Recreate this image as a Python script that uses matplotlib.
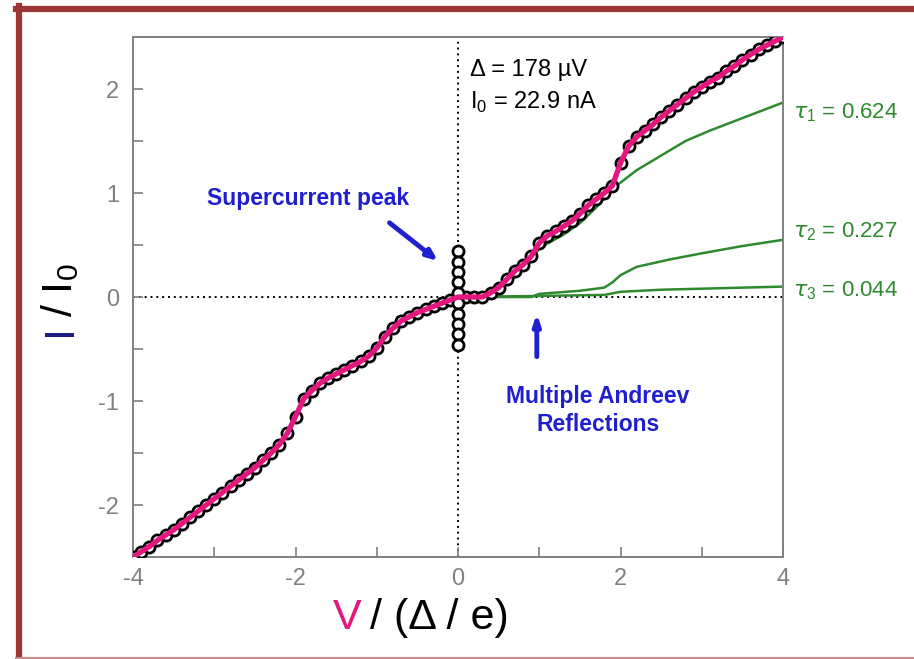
import matplotlib
matplotlib.use("Agg")
import matplotlib.pyplot as plt
from matplotlib.lines import Line2D
from matplotlib.ticker import MultipleLocator

plt.rcParams['font.family'] = ['Liberation Sans', 'DejaVu Sans']
plt.rcParams['mathtext.fontset'] = 'custom'
plt.rcParams['mathtext.rm'] = 'Liberation Sans'
plt.rcParams['axes.unicode_minus'] = False

# measured I-V points (V in units of Delta/e, I in units of I0)
v_data = [-4.0, -3.9, -3.8, -3.7, -3.6, -3.5, -3.4, -3.3, -3.2, -3.1,
          -3.0, -2.9, -2.8, -2.7, -2.6, -2.5, -2.4, -2.3, -2.2, -2.1,
          -2.0, -1.9, -1.8, -1.7, -1.6, -1.5, -1.4, -1.3, -1.2, -1.1,
          -1.0, -0.9, -0.8, -0.7, -0.6, -0.5, -0.4, -0.3, -0.2, -0.1,
          0.0, 0.1, 0.2, 0.3, 0.4, 0.5, 0.6, 0.7, 0.8, 0.9,
          1.0, 1.1, 1.2, 1.3, 1.4, 1.5, 1.6, 1.7, 1.8, 1.9,
          2.0, 2.1, 2.2, 2.3, 2.4, 2.5, 2.6, 2.7, 2.8, 2.9,
          3.0, 3.1, 3.2, 3.3, 3.4, 3.5, 3.6, 3.7, 3.8, 3.9, 4.0]
i_data = [-2.50, -2.45, -2.40, -2.34, -2.29, -2.24, -2.18, -2.12, -2.06, -2.00,
          -1.94, -1.88, -1.82, -1.76, -1.70, -1.64, -1.57, -1.50, -1.42, -1.31,
          -1.15, -0.98, -0.90, -0.83, -0.78, -0.74, -0.70, -0.66, -0.62, -0.57,
          -0.49, -0.38, -0.30, -0.23, -0.19, -0.15, -0.12, -0.09, -0.06, -0.03,
          0.00, 0.00, 0.00, 0.00, 0.04, 0.09, 0.17, 0.25, 0.31, 0.39,
          0.52, 0.59, 0.63, 0.68, 0.73, 0.80, 0.88, 0.94, 1.00, 1.07,
          1.29, 1.45, 1.54, 1.60, 1.66, 1.73, 1.79, 1.85, 1.91, 1.97,
          2.02, 2.07, 2.11, 2.17, 2.22, 2.28, 2.33, 2.38, 2.42, 2.46, 2.50]

# supercurrent points stacked at V = 0
v_sc = [0, 0, 0, 0, 0, 0, 0, 0, 0, 0]
i_sc = [0.44, 0.34, 0.24, 0.14, 0.04, -0.06, -0.16, -0.26, -0.36, -0.46]

# single channel contributions
v_t1 = [0.0, 0.3, 0.5, 0.7, 0.9, 1.0, 1.3, 1.5, 1.7, 1.9, 2.2, 2.5, 2.8, 3.1, 3.4, 3.7, 4.0]
i_t1 = [0.0, 0.0, 0.05, 0.19, 0.34, 0.47, 0.60, 0.71, 0.86, 1.04, 1.22, 1.36, 1.50, 1.60, 1.69, 1.78, 1.87]
v_t2 = [0.0, 0.9, 1.0, 1.5, 1.8, 1.9, 2.0, 2.2, 2.6, 3.0, 3.5, 4.0]
i_t2 = [0.0, 0.0, 0.03, 0.06, 0.09, 0.14, 0.21, 0.29, 0.36, 0.42, 0.49, 0.55]
v_t3 = [0.0, 1.0, 1.8, 2.0, 2.5, 3.0, 3.5, 4.0]
i_t3 = [0.0, 0.01, 0.02, 0.05, 0.07, 0.08, 0.09, 0.10]

tau_labels = [r"$\tau_{\mathregular{1}}$ = 0.624", r"$\tau_{\mathregular{2}}$ = 0.227",
              r"$\tau_{\mathregular{3}}$ = 0.044"]
tau_label_y = [1.77, 0.63, 0.06]

W, H = 914, 659
fig = plt.figure(figsize=(W / 100, H / 100), dpi=100)
ax = fig.add_axes([133 / W, 1 - 557 / H, 650 / W, 520 / H])

green = '#2f8a2f'
magenta = '#e4177e'
blue = '#1f1fd0'
gray = '#808080'

ax.axhline(0, color='black', ls=(0, (1, 2)), lw=1.4, zorder=1)
ax.axvline(0, color='black', ls=(0, (1, 2)), lw=1.4, zorder=1)

ax.plot(v_t1, i_t1, color=green, lw=1.8, zorder=2)
ax.plot(v_t2, i_t2, color=green, lw=1.8, zorder=2)
ax.plot(v_t3, i_t3, color=green, lw=1.8, zorder=2)

ax.plot(v_data, i_data, 'o', mfc='white', mec='black', mew=2.0, ms=8, zorder=3)
ax.plot(v_sc, i_sc, 'o', mfc='white', mec='black', mew=2.0, ms=8, zorder=3)
ax.plot(v_data, i_data, color=magenta, lw=3.8, zorder=4, solid_capstyle='round',
        solid_joinstyle='round')

ax.set_xlim(-4, 4)
ax.set_ylim(-2.5, 2.5)
ax.xaxis.set_major_locator(MultipleLocator(2))
ax.xaxis.set_minor_locator(MultipleLocator(1))
ax.yaxis.set_major_locator(MultipleLocator(1))
ax.yaxis.set_minor_locator(MultipleLocator(0.5))
ax.tick_params(which='both', direction='in', length=7, width=1.2, color=gray,
               labelsize=17, labelcolor=gray)
ax.tick_params(axis='x', pad=8)
ax.tick_params(axis='y', pad=10)
for s in ax.spines.values():
    s.set_color(gray)
    s.set_linewidth(1.4)

# parameters
ax.text(0.15, 2.18, "\u0394 = 178 \u00b5V", fontsize=17, va='center', ha='left')
ax.text(0.15, 1.87, r"I$_{\mathregular{0}}$ = 22.9 nA", fontsize=17, va='center', ha='left')

# channel labels right of the axes
for lab, yy in zip(tau_labels, tau_label_y):
    ax.text(4.12, yy, lab, fontsize=16, color=green, va='center', ha='left', clip_on=False)

# annotations
ax.text(-1.85, 0.95, "Supercurrent peak", fontsize=16.5, fontweight='bold', color=blue,
        ha='center', va='center')
ax.annotate("", xy=(-0.22, 0.33), xytext=(-0.87, 0.73),
            arrowprops=dict(arrowstyle='-|>,head_length=0.6,head_width=0.25', color=blue, lw=3.5))
ax.text(1.72, -1.09, "Multiple Andreev\nReflections", fontsize=16.5, fontweight='bold',
        color=blue, ha='center', va='center', linespacing=1.3)
ax.annotate("", xy=(0.97, -0.13), xytext=(0.97, -0.6),
            arrowprops=dict(arrowstyle='-|>,head_length=0.6,head_width=0.2', color=blue, lw=3.5))

# axis labels with coloured symbols
fig.text(347 / W, 1 - 618 / H, "V", fontsize=31, color=magenta, ha='center', va='center')
fig.text(370 / W, 1 - 618 / H, "/ (\u0394 / e)", fontsize=31, color='black', ha='left', va='center')
fig.text(60 / W, 1 - 330 / H, "I", fontsize=31, color='#1a1a80', ha='center', va='center', rotation=90)
fig.text(60 / W, 1 - 290 / H, r"/ I$_{\mathregular{0}}$", fontsize=31, color='black',
         ha='center', va='center', rotation=90)

# frame around the figure
frame = '#9d3535'
fig.add_artist(Line2D([16 / W, 1], [1 - 9 / H, 1 - 9 / H], color=frame, lw=4.5, transform=fig.transFigure))
fig.add_artist(Line2D([19 / W, 19 / W], [0, 1 - 6 / H], color=frame, lw=4.5, transform=fig.transFigure))
fig.add_artist(Line2D([16 / W, 1], [1 - 658 / H, 1 - 658 / H], color='#c98a8a', lw=1.5,
                      transform=fig.transFigure))

fig.savefig("out.png", dpi=100)
